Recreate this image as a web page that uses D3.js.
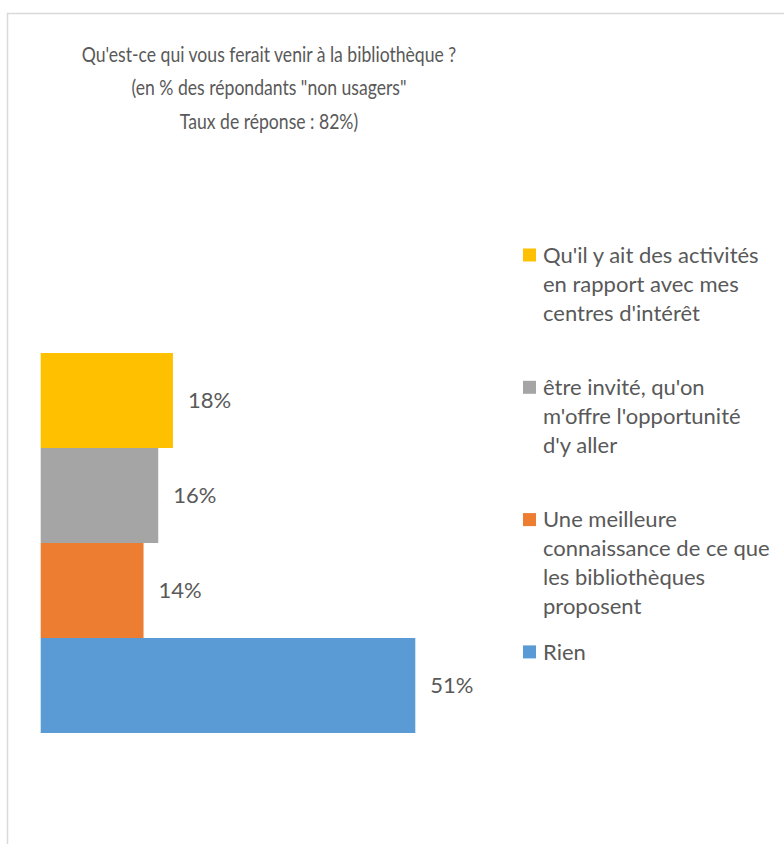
<!DOCTYPE html>
<html>
<head>
<meta charset="utf-8">
<script src="https://cdn.jsdelivr.net/npm/d3@7"></script>
<style>
  body { margin: 0; background: #fff; }
  text { font-family: Lato, "Open Sans", sans-serif; fill: #595959; }
</style>
</head>
<body>
<svg id="chart" width="784" height="844"></svg>
<script>
// chart data
const categories = ["activites", "invite", "connaissance", "rien"];
const values = [0.18, 0.16, 0.14, 0.51];
const colors = ["#FFC000", "#A5A5A5", "#ED7D31", "#5B9BD5"];
const legendLines = [
    ["Qu'il y ait des activités", "en rapport avec mes", "centres d'intérêt"],
    ["être invité, qu'on", "m'offre l'opportunité", "d'y aller"],
    ["Une meilleure", "connaissance de ce que", "les bibliothèques", "proposent"],
    ["Rien"]
];
const titleLines = [
    "Qu'est-ce qui vous ferait venir à la bibliothèque ?",
    "(en % des répondants \"non usagers\"",
    "Taux de réponse : 82%)"
];

const svg = d3.select("#chart");

svg.append("rect")
    .attr("width", 784).attr("height", 844)
    .attr("fill", "#fff");

// chart frame (only top & left edges are visible)
svg.append("rect")
    .attr("x", 7.5).attr("y", 13.5)
    .attr("width", 800).attr("height", 850)
    .attr("fill", "none")
    .attr("stroke", "#d9d9d9")
    .attr("stroke-width", 1.5);

const x = d3.scaleLinear()
    .domain([0, 0.51])
    .range([40.7, 415.3]);

const y = d3.scaleBand()
    .domain(categories)
    .range([353, 733])
    .padding(0);

// title - the original is set in a condensed face, so squeeze it horizontally
const titleX = 269;
svg.append("g")
    .attr("transform", `translate(${titleX},0) scale(0.8,1)`)
    .selectAll("text")
    .data(titleLines)
    .join("text")
    .attr("x", 0)
    .attr("y", (d, i) => 62 + i * 33.5)
    .attr("text-anchor", "middle")
    .attr("font-size", 22)
    .text(d => d);

// bars
svg.append("g")
    .selectAll("rect")
    .data(values)
    .join("rect")
    .attr("x", x(0))
    .attr("y", (d, i) => y(categories[i]))
    .attr("width", d => x(d) - x(0))
    .attr("height", y.bandwidth())
    .attr("fill", (d, i) => colors[i]);

// data labels
svg.append("g")
    .selectAll("text")
    .data(values)
    .join("text")
    .attr("x", d => x(d) + 15)
    .attr("y", (d, i) => y(categories[i]) + y.bandwidth() / 2)
    .attr("dy", "0.35em")
    .attr("font-size", 22)
    .text(d => d3.format(".0%")(d));

// legend
const legend = svg.append("g")
    .selectAll("g")
    .data(legendLines)
    .join("g")
    .attr("transform", (d, i) => `translate(523, ${255 + i * 132.3})`);

legend.append("rect")
    .attr("x", 0).attr("y", -6.5)
    .attr("width", 13).attr("height", 13)
    .attr("fill", (d, i) => colors[i]);

legend.selectAll("text")
    .data(d => d)
    .join("text")
    .attr("x", 20)
    .attr("y", (d, i) => i * 29)
    .attr("dy", "0.35em")
    .attr("font-size", 22)
    .text(d => d);
</script>
</body>
</html>
